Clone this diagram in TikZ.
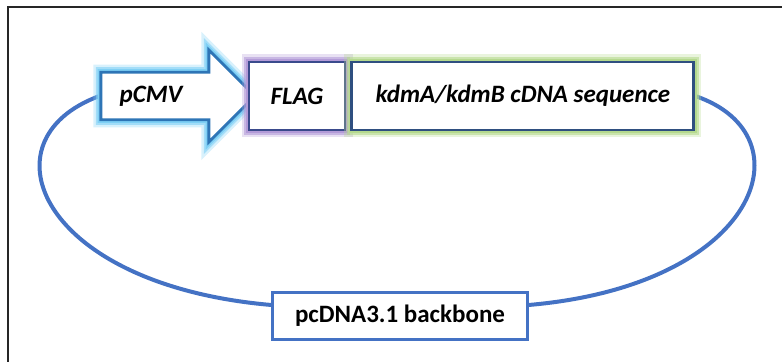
\documentclass[tikz,border=0pt]{standalone}
\usepackage{fontspec}
\setmainfont{Carlito}
\usetikzlibrary{shapes.arrows,positioning,backgrounds}

\definecolor{loopblue}{HTML}{4472C4}
\definecolor{cmvblue}{HTML}{2E75B6}
\definecolor{cmvglow}{HTML}{7FD0F5}
\definecolor{flagline}{HTML}{3A4A8C}
\definecolor{flagglow}{HTML}{B39BD8}
\definecolor{kdmline}{HTML}{2F4F80}
\definecolor{kdmglow}{HTML}{B5D98E}

\tikzset{
  glow/.style={preaction={draw=#1,line width=7.5pt,opacity=.3},
               preaction={draw=#1,line width=5pt,opacity=.6},
               preaction={draw=#1,line width=3.2pt}},
  label text/.style={font=\fontsize{12.5}{15}\selectfont\bfseries\itshape},
  part/.style={draw,line width=1.4pt,fill=white,label text,inner sep=0pt}
}

\begin{document}
\begin{tikzpicture}[x=0.5pt,y=-0.5pt]
  \useasboundingbox (0,0) rectangle (782,362);
  % frame
  \draw[line width=0.8pt,black!85] (782,7) -- (8,7) -- (8,362);

  \node[part,draw=cmvblue,glow=cmvglow,shape=single arrow,inner ysep=6pt,
        single arrow head extend=11pt,minimum width=46pt,
        minimum height=77pt] (pcmv) at (166,96) {pCMV\hspace*{15pt}};
  \node[part,draw=flagline,glow=flagglow,minimum width=48pt,
        minimum height=34pt] (flag) at (297,96) {FLAG};
  \node[part,draw=kdmline,glow=kdmglow,minimum width=171pt,
        minimum height=34pt,right=2pt of flag] (kdm) {kdmA/kdmB cDNA sequence};
  \node[draw=loopblue,line width=1.2pt,fill=white,minimum width=127.5pt,
        minimum height=23.5pt,inner sep=0pt,
        font=\fontsize{12.5}{15}\selectfont\bfseries] (backbone) at (400,316) {pcDNA3.1 backbone};

  % vector backbone loop
  \begin{pgfonlayer}{background}
    \draw[loopblue,line width=2pt] (pcmv.west) .. controls (-20,140) and (40,285) .. ([yshift=5.5pt]backbone.west);
    \draw[loopblue,line width=2pt] (kdm.east) .. controls (810,135) and (760,285) .. ([yshift=5.5pt]backbone.east);
  \end{pgfonlayer}
\end{tikzpicture}
\end{document}
